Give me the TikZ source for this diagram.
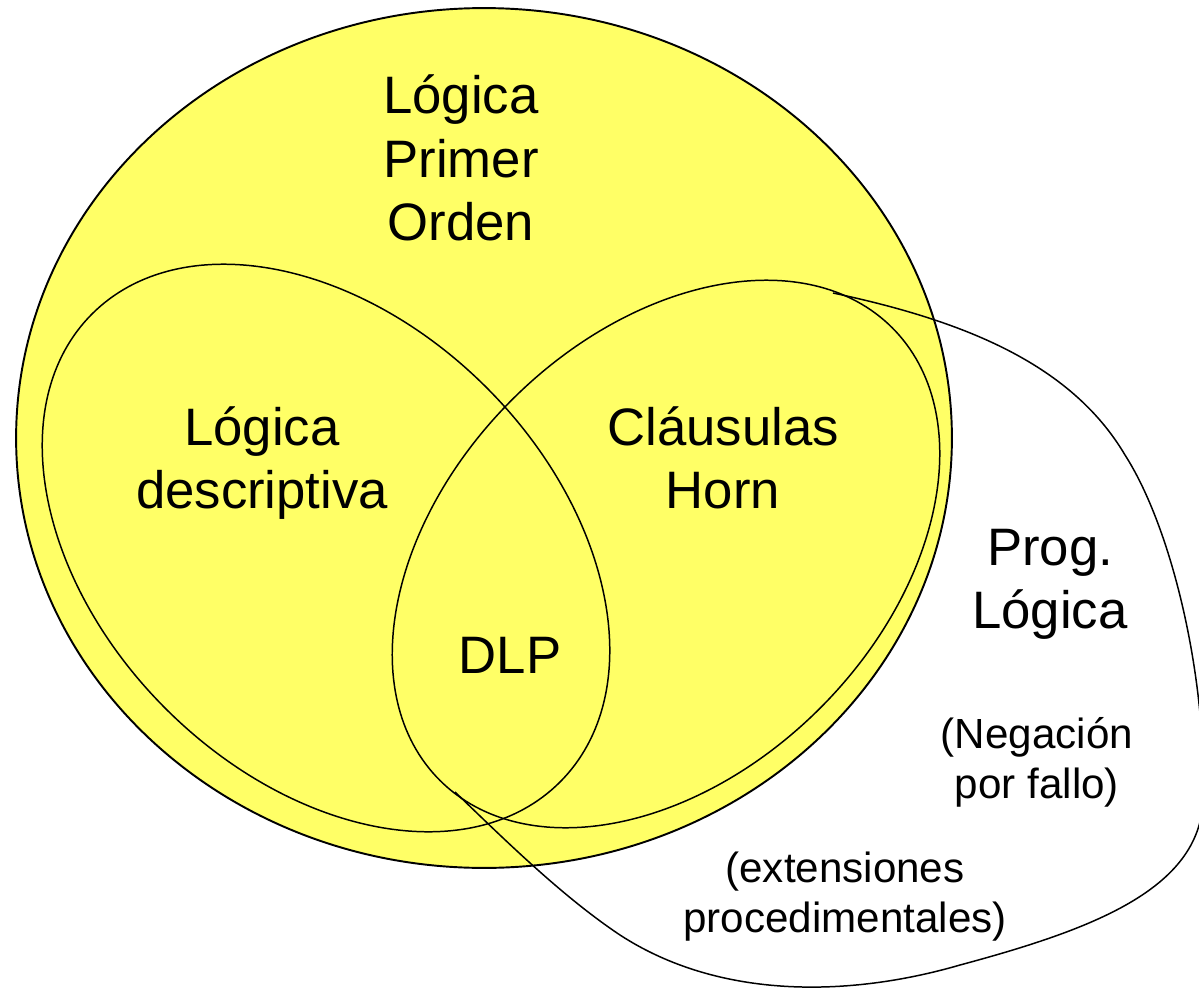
\documentclass[tikz,border=0pt]{standalone}
\usepackage{fontspec}
\setmainfont{Liberation Sans}
\definecolor{venny}{RGB}{255,255,102}
\begin{document}
\begin{tikzpicture}[x=0.02cm,y=-0.02cm,
  bigtext/.style={font=\fontsize{30}{36}\selectfont, align=center, inner sep=0pt},
  smalltext/.style={font=\fontsize{24}{28.5}\selectfont, align=center, inner sep=0pt},
  setline/.style={line width=0.85pt},
  outerline/.style={line width=1.1pt}]
\useasboundingbox (0,0) rectangle (1199,990);
\fill[white] (0,0) rectangle (1199,990);
% first order logic
\draw[outerline, fill=venny] (484,438) ellipse [x radius=9.36cm, y radius=8.6cm];
% description logic
\draw[setline, shift={(326,548)}, rotate=-45] (0,0) ellipse [x radius=6.62cm, y radius=4.54cm];
% Horn clauses
\draw[setline, shift={(666,554)}, rotate=45] (0,0) ellipse [x radius=6.4cm, y radius=4.36cm];
% logic programming
\coordinate (lpstart) at (833,293);
\coordinate (lpend) at (455,792);
\draw[setline] (lpstart)
  .. controls (960,320) and (1070,362) .. (1125,455)
  .. controls (1173,530) and (1207,680) .. (1203,800)
  .. controls (1200,890) and (1090,930) .. (960,965)
  .. controls (850,997) and (720,1000) .. (620,935)
  .. controls (560,895) and (500,835) .. (lpend);
% labels
\node[bigtext] (fol) at (461,158) {Lógica\\Primer\\Orden};
\node[bigtext] (dl) at (262,463) {Lógica\\descriptiva};
\node[bigtext] (horn) at (723,458) {Cláusulas\\Horn};
\node[bigtext] (dlp) at (510,655) {DLP};
\node[bigtext] (lp) at (1050,584) {Prog.\\Lógica};
\node[smalltext] (naf) at (1037,762) {(Negación\\por fallo)};
\node[smalltext] (ext) at (845,897) {(extensiones\\procedimentales)};
\end{tikzpicture}
\end{document}
